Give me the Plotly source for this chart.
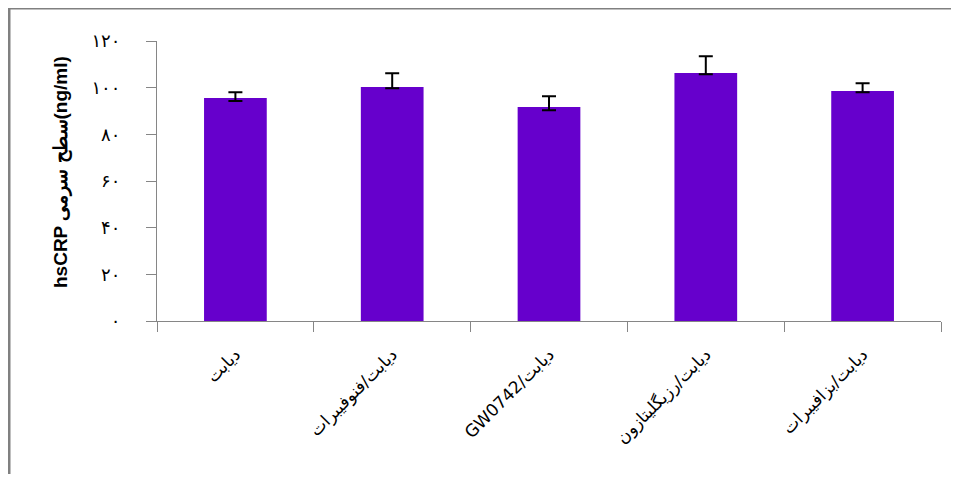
import plotly.graph_objects as go

categories = ["دیابت", "دیابت/فنوفیبرات", "\u202bدیابت/GW0742\u202c", "دیابت/رزیگلیتازون", "دیابت/بزافیبرات"]
values = [95.6, 100.3, 91.7, 106.3, 98.6]
err_plus = [2.4, 5.9, 4.6, 7.2, 3.3]
err_minus = [1.3, 0.6, 1.4, 0.6, 0.6]
tick_vals = [0, 20, 40, 60, 80, 100, 120]
tick_text = ["۰", "۲۰", "۴۰", "۶۰", "۸۰", "۱۰۰", "۱۲۰"]
y_title = "hsCRP سطح سرمی(ng/ml)"

OFF = 8  # page body margin
W, H = 959 - 2 * OFF, 482 - 2 * OFF
L, R, T, B = 157 - OFF, 18 - OFF, 41 - OFF, 161 - OFF
pw, ph = W - L - R, H - T - B

def px(x):
    return (x - OFF - L) / pw

def py(y):
    return (H - B - (y - OFF)) / ph

fig = go.Figure()
fig.add_trace(go.Bar(
    x=categories, y=values,
    marker=dict(color="#6600CC", line=dict(width=0)),
    error_y=dict(type="data", symmetric=False, array=err_plus, arrayminus=err_minus,
                 color="black", thickness=2, width=7),
))

fig.update_layout(
    width=W, height=H,
    margin=dict(l=L, r=R, t=T, b=B),
    paper_bgcolor="white", plot_bgcolor="white",
    bargap=0.6, showlegend=False,
    font=dict(family="DejaVu Sans, sans-serif", color="black"),
    xaxis=dict(
        showline=True, linecolor="#868686", linewidth=1,
        ticks="outside", ticklen=10, tickcolor="#868686", tickson="boundaries",
        tickangle=-45, tickfont=dict(size=17, family="DejaVu Sans"),
        ticklabelstandoff=16, showgrid=False, zeroline=False,
    ),
    yaxis=dict(
        range=[0, 120], tickvals=tick_vals, ticktext=tick_text,
        showline=True, linecolor="#868686", linewidth=1,
        ticks="outside", ticklen=10, tickcolor="#868686",
        tickfont=dict(size=18, family="DejaVu Sans"),
        ticklabelstandoff=22, showgrid=False, zeroline=False,
    ),
    annotations=[dict(
        text=y_title, textangle=-90, xref="paper", yref="paper",
        x=px(61), y=py(172), xanchor="center", yanchor="middle", showarrow=False,
        font=dict(size=19, family="Liberation Sans, Arial, sans-serif", color="black", weight="bold"),
    )],
    shapes=[
        dict(type="line", xref="paper", yref="paper", x0=px(8), x1=px(959), y0=py(8), y1=py(8),
             line=dict(color="#808080", width=3)),
        dict(type="line", xref="paper", yref="paper", x0=px(9), x1=px(9), y0=py(7), y1=py(482),
             line=dict(color="#808080", width=3)),
    ],
)

fig.write_html("out.html")
